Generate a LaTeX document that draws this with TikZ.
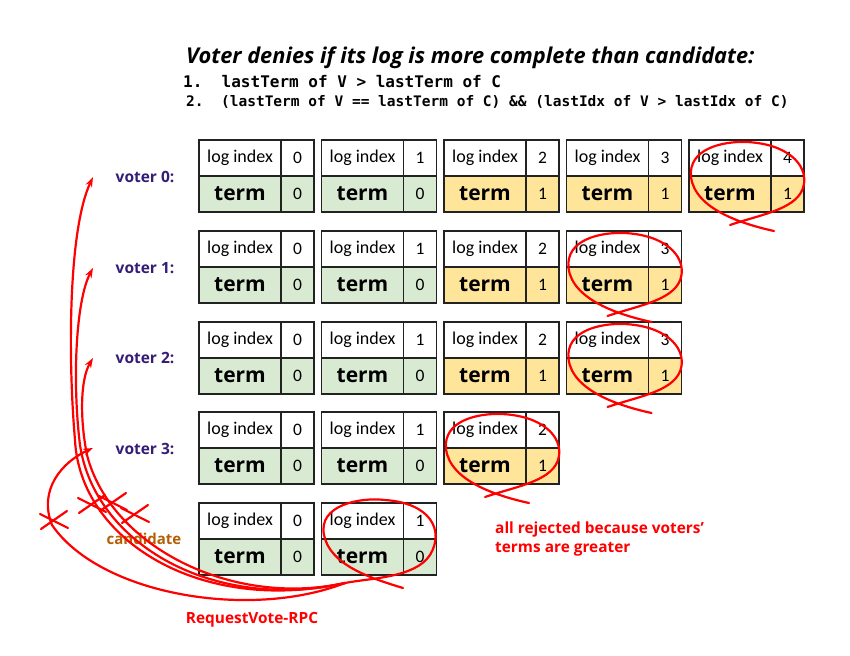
\documentclass[tikz,border=0pt]{standalone}
\usepackage{fontspec}
\setmainfont{Open Sans}
\newfontfamily\cellfont{Carlito}
\newfontfamily\codefont{DejaVu Sans Mono}
\usetikzlibrary{arrows.meta}

\definecolor{termgreen}{HTML}{D9EAD3}
\definecolor{termyellow}{HTML}{FFE599}
\definecolor{voterpurple}{HTML}{351C75}
\definecolor{candorange}{HTML}{B45F06}
\definecolor{scribred}{HTML}{FF0000}
\definecolor{cellline}{HTML}{222222}

\tikzset{
  cellbox/.style={draw=cellline, line width=1.2pt, outer sep=0pt, inner sep=0pt, minimum height=36pt},
  idxname/.style={cellbox, fill=white, minimum width=82pt, font=\cellfont\fontsize{18}{18}\selectfont},
  idxval/.style={cellbox, fill=white, minimum width=33pt, font=\cellfont\fontsize{17.5}{17.5}\selectfont},
  termname/.style={cellbox, minimum width=82pt, font=\bfseries\fontsize{21}{21}\selectfont},
  termval/.style={cellbox, minimum width=33pt, font=\cellfont\fontsize{17.5}{17.5}\selectfont},
  voterlabel/.style={text=voterpurple, font=\bfseries\fontsize{15.5}{15.5}\selectfont},
  codeline/.style={anchor=west, inner sep=0pt},
  scribble/.style={draw=scribred, line width=2.2pt, line cap=round},
  rpc/.style={scribble, -{Stealth[length=10pt,width=7pt]}},
  lasso/.pic={
    \draw[scribble] (85,91) .. controls (53,84) and (6,69) .. (2,37)
      .. controls (-1,9) and (33,1) .. (58,2)
      .. controls (98,4) and (118,24) .. (115,44)
      .. controls (111,69) and (73,74) .. (41,85);
  },
  xmark/.pic={
    \draw[scribble] (-14,-7) -- (14,7);
    \draw[scribble] (-13,8) -- (13,-10);
  }
}

% one log entry: name, left x, top y, index, term, fill colour
\newcommand{\logentry}[6]{%
  \node[idxname, anchor=north west] (#1-n) at (#2,#3) {log index};
  \node[idxval, anchor=north west] (#1-i) at (#1-n.north east) {#4};
  \node[termname, fill=#6, anchor=north west] (#1-t) at (#1-n.south west) {term};
  \node[termval, fill=#6, anchor=north west] (#1-v) at (#1-t.north east) {#5};
}

\begin{document}
\begin{tikzpicture}[x=1pt, y=-1pt]
\fill[white] (0,0) rectangle (850,655);
\useasboundingbox (0,0) rectangle (850,655);

% heading and the two rules
\node[anchor=west, inner sep=0pt, font=\bfseries\itshape\fontsize{21.8}{21.8}\selectfont] (title) at (186,58)
  {Voter denies if its log is more complete than candidate:};
\node[codeline, font=\codefont\bfseries\fontsize{16}{16}\selectfont] (rule1) at (183,82)
  {1.\ \ lastTerm of V > lastTerm of C};
\node[codeline, font=\codefont\bfseries\fontsize{14.5}{14.5}\selectfont] (rule2) at (186,102)
  {2.\ \ (lastTerm of V == lastTerm of C) \&\& (lastIdx of V > lastIdx of C)};

% voter 0
\node[voterlabel] (lab0) at (145,177) {voter 0:};
\logentry{a0}{199}{140}{0}{0}{termgreen}
\logentry{a1}{321.5}{140}{1}{0}{termgreen}
\logentry{a2}{444}{140}{2}{1}{termyellow}
\logentry{a3}{566.5}{140}{3}{1}{termyellow}
\logentry{a4}{689}{140}{4}{1}{termyellow}

% voter 1
\node[voterlabel] (lab1) at (145,268) {voter 1:};
\logentry{b0}{199}{231}{0}{0}{termgreen}
\logentry{b1}{321.5}{231}{1}{0}{termgreen}
\logentry{b2}{444}{231}{2}{1}{termyellow}
\logentry{b3}{566.5}{231}{3}{1}{termyellow}

% voter 2
\node[voterlabel] (lab2) at (145,358) {voter 2:};
\logentry{c0}{199}{322}{0}{0}{termgreen}
\logentry{c1}{321.5}{322}{1}{0}{termgreen}
\logentry{c2}{444}{322}{2}{1}{termyellow}
\logentry{c3}{566.5}{322}{3}{1}{termyellow}

% voter 3
\node[voterlabel] (lab3) at (145,449) {voter 3:};
\logentry{d0}{199}{412}{0}{0}{termgreen}
\logentry{d1}{321.5}{412}{1}{0}{termgreen}
\logentry{d2}{444}{412}{2}{1}{termyellow}

% candidate
\node[text=candorange, font=\bfseries\fontsize{15}{15}\selectfont] (cand) at (144,539) {candidate};
\logentry{e0}{199}{503}{0}{0}{termgreen}
\logentry{e1}{321.5}{503}{1}{0}{termgreen}

% outcome note and RPC label
\node[anchor=west, align=left, inner sep=0pt, text=scribred,
      font=\bfseries\fontsize{15.4}{19.5}\selectfont] (note) at (495,539)
  {all rejected because voters’\\terms are greater};
\node[text=scribred, font=\bfseries\fontsize{15.4}{15.4}\selectfont] (rpclab) at (252,620) {RequestVote-RPC};

% lassos round the last entry of each voter
\pic at (a4-n.north west) {lasso};
\pic at (b3-n.north west) {lasso};
\pic at (c3-n.north west) {lasso};
\pic at (d2-n.north west) {lasso};

% lasso round the candidate's last entry, running into the RPC strokes
\coordinate (rpcstart) at (345,583);
\draw[scribble] (403,588) .. controls (370,578) and (330,565) .. (324,535)
  .. controls (318,505) and (360,497) .. (385,500)
  .. controls (430,503) and (445,530) .. (430,555)
  .. controls (415,578) and (370,578) .. (rpcstart);

% RequestVote-RPC strokes towards the voters
\coordinate (tip0) at (93,177);
\coordinate (tip1) at (93,268);
\coordinate (tip2) at (93,358);
\coordinate (tip3) at (93,448);
\draw[rpc] (rpcstart) .. controls (200,615) and (80,540) .. (75,440)
  .. controls (68,360) and (68,230) .. (tip0);
\draw[rpc] (rpcstart) .. controls (215,612) and (95,545) .. (80,445)
  .. controls (72,380) and (76,300) .. (tip1);
\draw[rpc] (rpcstart) .. controls (230,608) and (110,545) .. (87,455)
  .. controls (80,420) and (80,380) .. (tip2);
\draw[rpc] (rpcstart) .. controls (250,620) and (100,595) .. (52,525)
  .. controls (38,490) and (62,462) .. (tip3);

% crossed-out strokes
\pic at (54,521) {xmark};
\pic at (92,505) {xmark};
\pic at (113,503) {xmark};
\pic at (135,515) {xmark};
\end{tikzpicture}
\end{document}
